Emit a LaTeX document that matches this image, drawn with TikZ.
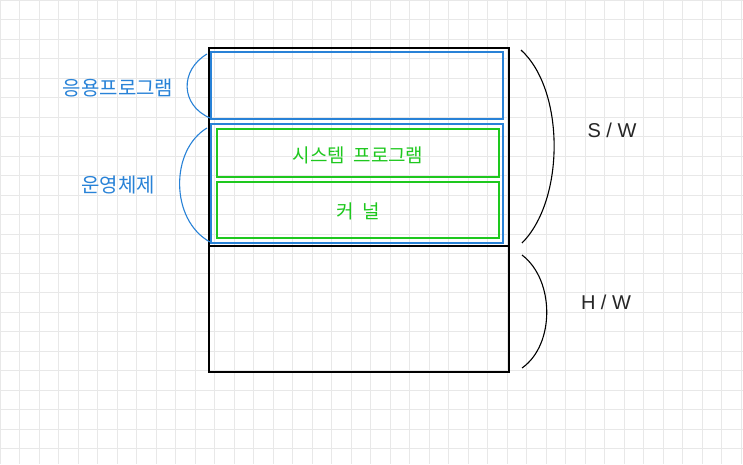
\documentclass[tikz,border=0pt]{standalone}
\usepackage{fontspec}
\newfontfamily\kr{Noto Sans CJK KR}
\setmainfont{Liberation Sans}
\definecolor{gblue}{RGB}{40,130,215}
\definecolor{ggreen}{RGB}{30,200,30}
\tikzset{
 outer/.style={draw=black,line width=1.1pt},
 bluebox/.style={draw=gblue,line width=1.1pt},
 greenbox/.style={draw=ggreen,line width=1.2pt},
 gtext/.style={text=ggreen,font=\kr\fontsize{19}{19}\selectfont},
 btext/.style={text=gblue,font=\kr\fontsize{20}{20}\selectfont},
 ktext/.style={text=black!85,font=\fontsize{20}{20}\selectfont},
}
\begin{document}
\begin{tikzpicture}[x=1pt,y=-1pt]
\useasboundingbox (0,0) rectangle (743,464);
\fill[white] (0,0) rectangle (743,464);
\foreach \i in {0,...,38} {\draw[black!9,line width=0.5pt] (\i*19.5,0) -- (\i*19.5,464);}
\foreach \i in {0,...,24} {\draw[black!9,line width=0.5pt] (0,\i*19.5) -- (743,\i*19.5);}
\draw[outer] (209,48) rectangle (509,372);
\draw[outer] (209,246) -- (509,246);
\draw[bluebox] (211,52) rectangle (503,119);
\draw[bluebox] (211,124) rectangle (503,243);
\draw[greenbox] (217,129) rectangle (499,177);
\draw[greenbox] (217,182) rectangle (499,238);
\node[gtext] (sys) at (358,155) {시스템 \ 프로그램};
\node[gtext] (ker) at (358,211) {커 \ 널};
\node[btext] (app) at (118,88) {응용프로그램};
\node[btext] (os) at (118,185) {운영체제};
\node[ktext] (sw) at (612,130) {S / W};
\node[ktext] (hw) at (606,302) {H / W};
\draw[gblue,line width=1.1pt] (207,54) .. controls (180,70) and (180,105) .. (210,118);
\draw[gblue,line width=1.1pt] (207,128) .. controls (170,150) and (170,220) .. (210,242);
\draw[black,line width=1.1pt] (521,50) .. controls (565,90) and (565,200) .. (522,243);
\draw[black,line width=1.1pt] (522,255) .. controls (555,280) and (555,345) .. (522,368);
\end{tikzpicture}
\end{document}
